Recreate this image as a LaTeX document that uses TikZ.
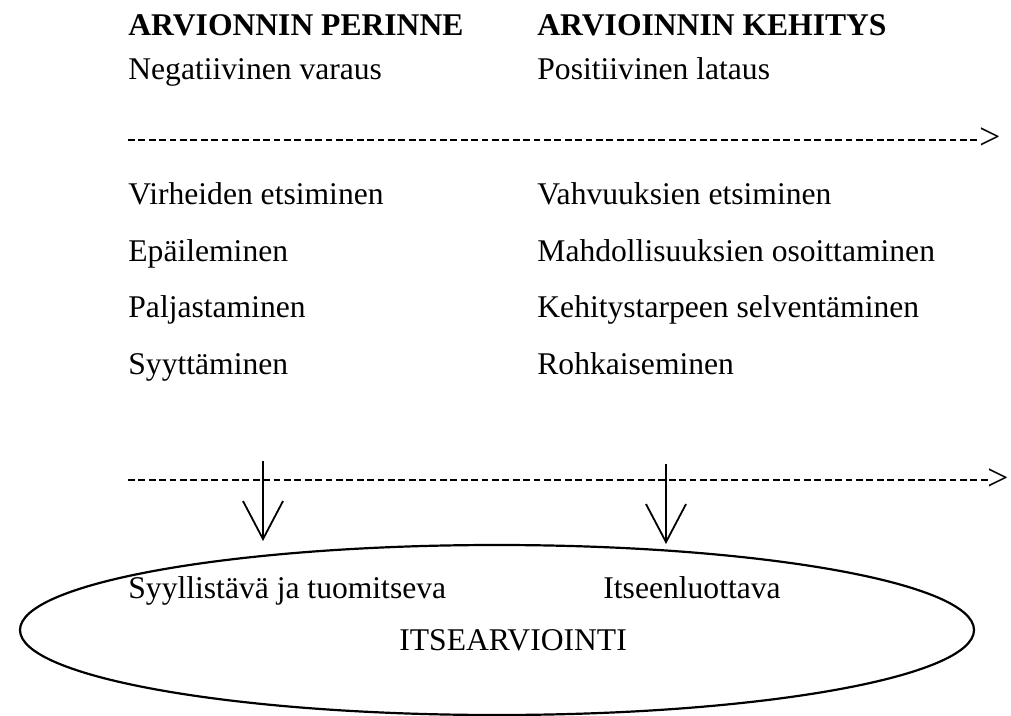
\documentclass[tikz,border=0pt]{standalone}
\usepackage{fontspec}
\setmainfont{Liberation Serif}
\usetikzlibrary{arrows.meta,shapes.geometric}
\tikzset{
  txt/.style={anchor=base west, inner sep=0pt, font=\fontsize{15.8}{18}\selectfont},
  hdr/.style={txt, font=\fontsize{15.8}{18}\selectfont\bfseries},
  gt/.style={anchor=base west, inner sep=0pt, font=\fontsize{19}{21}\selectfont},
  dashline/.style={line width=1.1pt, dash pattern=on 3.4pt off 1.8pt},
  downarrow/.style={line width=0.9pt, -{Straight Barb[length=19pt,width=20pt,line width=0.9pt]}},
  outline/.style={draw, line width=1.1pt, ellipse, inner sep=0pt}
}
\begin{document}
\begin{tikzpicture}[x=0.5pt,y=-0.5pt]
\useasboundingbox (0,0) rectangle (1011,716);
% headers
\node[hdr] (h1) at (128,36) {ARVIONNIN PERINNE};
\node[hdr] (h2) at (537,36) {ARVIOINNIN KEHITYS};
\node[txt] (n1) at (128,80) {Negatiivinen varaus};
\node[txt] (p1) at (537,80) {Positiivinen lataus};
% first dashed line
\coordinate (d1s) at (128,140);
\coordinate (d1e) at (980,140);
\draw[dashline] (d1s) -- (d1e);
\node[gt] (g1) at (979,150) {>};
% rows
\node[txt] (l1) at (128,205) {Virheiden etsiminen};
\node[txt] (l2) at (128,262) {Epäileminen};
\node[txt] (l3) at (128,318) {Paljastaminen};
\node[txt] (l4) at (128,374) {Syyttäminen};
\node[txt] (r1) at (537,205) {Vahvuuksien etsiminen};
\node[txt] (r2) at (537,262) {Mahdollisuuksien osoittaminen};
\node[txt] (r3) at (537,318) {Kehitystarpeen selventäminen};
\node[txt] (r4) at (537,374) {Rohkaiseminen};
% second dashed line
\coordinate (d2s) at (128,480);
\coordinate (d2e) at (988,480);
\draw[dashline] (d2s) -- (d2e);
\node[gt] (g2) at (987,490) {>};
% ellipse
\node[outline, minimum width=477pt, minimum height=85pt] (ell) at (497,630) {};
% down arrows
\coordinate (a1s) at (263,461);
\coordinate (a1e) at (263,541);
\coordinate (a2s) at (666,464);
\coordinate (a2e) at (666,544);
\draw[downarrow] (a1s) -- (a1e);
\draw[downarrow] (a2s) -- (a2e);
% ellipse texts
\node[txt] (e1) at (128,598) {Syyllistävä ja tuomitseva};
\node[txt] (e2) at (603,598) {Itseenluottava};
\node[txt] (e3) at (399,650) {ITSEARVIOINTI};
\end{tikzpicture}
\end{document}
